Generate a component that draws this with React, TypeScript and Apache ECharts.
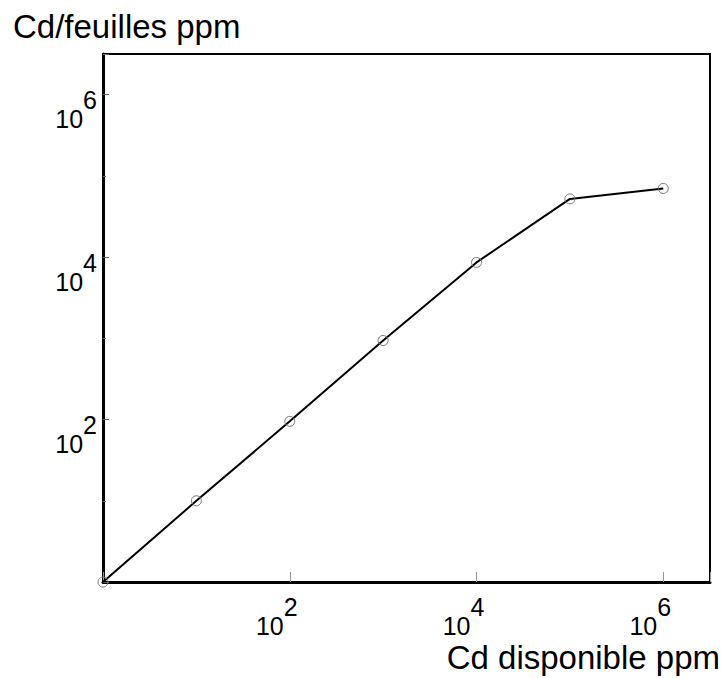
import React, { useEffect, useRef } from "react";
import * as echarts from "echarts";

const cdDisponible = [1, 10, 100, 1000, 10000, 100000, 1000000];
const cdFeuilles = [1, 10, 95, 940, 8600, 52000, 70000];
const xTickExponents = [2, 4, 6];
const yTickExponents = [2, 4, 6];
const axisMin = 1;
const axisMax = Math.pow(10, 6.5);
const yTitle = "Cd/feuilles ppm";
const xTitle = "Cd disponible ppm";

const FONT = "'Liberation Sans', Arial, Helvetica, sans-serif";

function makeFormatter(exps: number[]) {
  return (v: number) => {
    const e = Math.log10(v);
    const r = Math.round(e);
    if (Math.abs(e - r) > 0.01 || exps.indexOf(r) < 0) return "";
    return `{b|10}{e|${r}}`;
  };
}

const rich = {
  b: { fontSize: 25, fontFamily: FONT, color: "#000", verticalAlign: "bottom" as const },
  e: { fontSize: 25, fontFamily: FONT, color: "#000", padding: [0, 0, 19, 0] },
};

export default function App() {
  const ref = useRef<HTMLDivElement>(null);
  useEffect(() => {
    if (!ref.current) return;
    const chart = echarts.init(ref.current, null, { renderer: "svg" });
    chart.setOption({
      animation: false,
      backgroundColor: "#fff",
      title: {
        text: yTitle,
        left: 8,
        top: 5,
        textStyle: { fontSize: 33, fontWeight: "normal", fontFamily: FONT, color: "#000" },
      },
      graphic: [
        {
          type: "text",
          right: 1,
          top: 641,
          style: { text: xTitle, fontSize: 33, fontFamily: FONT, fill: "#000" },
        },
      ],
      grid: {
        left: 103,
        top: 54,
        right: 11,
        bottom: 96,
        show: true,
        borderColor: "#000",
        borderWidth: 2,
      },
      xAxis: {
        type: "log",
        logBase: 10,
        min: axisMin,
        max: axisMax,
        interval: 2,
        axisLine: { show: true, lineStyle: { color: "#000", width: 3 } },
        axisTick: { show: true, inside: true, length: 10, lineStyle: { color: "#999", width: 1 } },
        splitLine: { show: false },
        minorTick: { show: false },
        axisLabel: {
          formatter: makeFormatter(xTickExponents),
          rich,
          margin: 12,
          padding: [0, 26, 0, 0],
          showMinLabel: true,
          showMaxLabel: true,
        },
      },
      yAxis: [
        {
          type: "log",
          logBase: 10,
          min: axisMin,
          max: axisMax,
          interval: 2,
          axisLine: { show: true, lineStyle: { color: "#000", width: 3 } },
          axisTick: { show: true, inside: true, length: 6, lineStyle: { color: "#666", width: 1 } },
          splitLine: { show: false },
          axisLabel: {
            formatter: makeFormatter(yTickExponents),
            rich,
            margin: 6,
            verticalAlign: "middle",
            padding: [30, 0, 0, 0],
          },
        },
        {
          type: "log",
          logBase: 10,
          min: axisMin,
          max: axisMax,
          interval: 1,
          position: "left",
          axisLine: { show: false },
          axisTick: { show: true, inside: true, length: 3, lineStyle: { color: "#666", width: 1 } },
          splitLine: { show: false },
          axisLabel: { show: false },
        },
      ],
      series: [
        {
          type: "line",
          data: cdDisponible.map((x, i) => [x, cdFeuilles[i]]),
          yAxisIndex: 0,
          clip: false,
          symbol: "circle",
          symbolSize: 10,
          showAllSymbol: true,
          lineStyle: { color: "#000", width: 2 },
          itemStyle: { color: "rgba(0,0,0,0)", borderColor: "#777", borderWidth: 1 },
        },
      ],
    });
    return () => chart.dispose();
  }, []);
  return (
    <div
      ref={ref}
      style={{ position: "fixed", left: 0, top: 0, width: 721, height: 678 }}
    />
  );
}
